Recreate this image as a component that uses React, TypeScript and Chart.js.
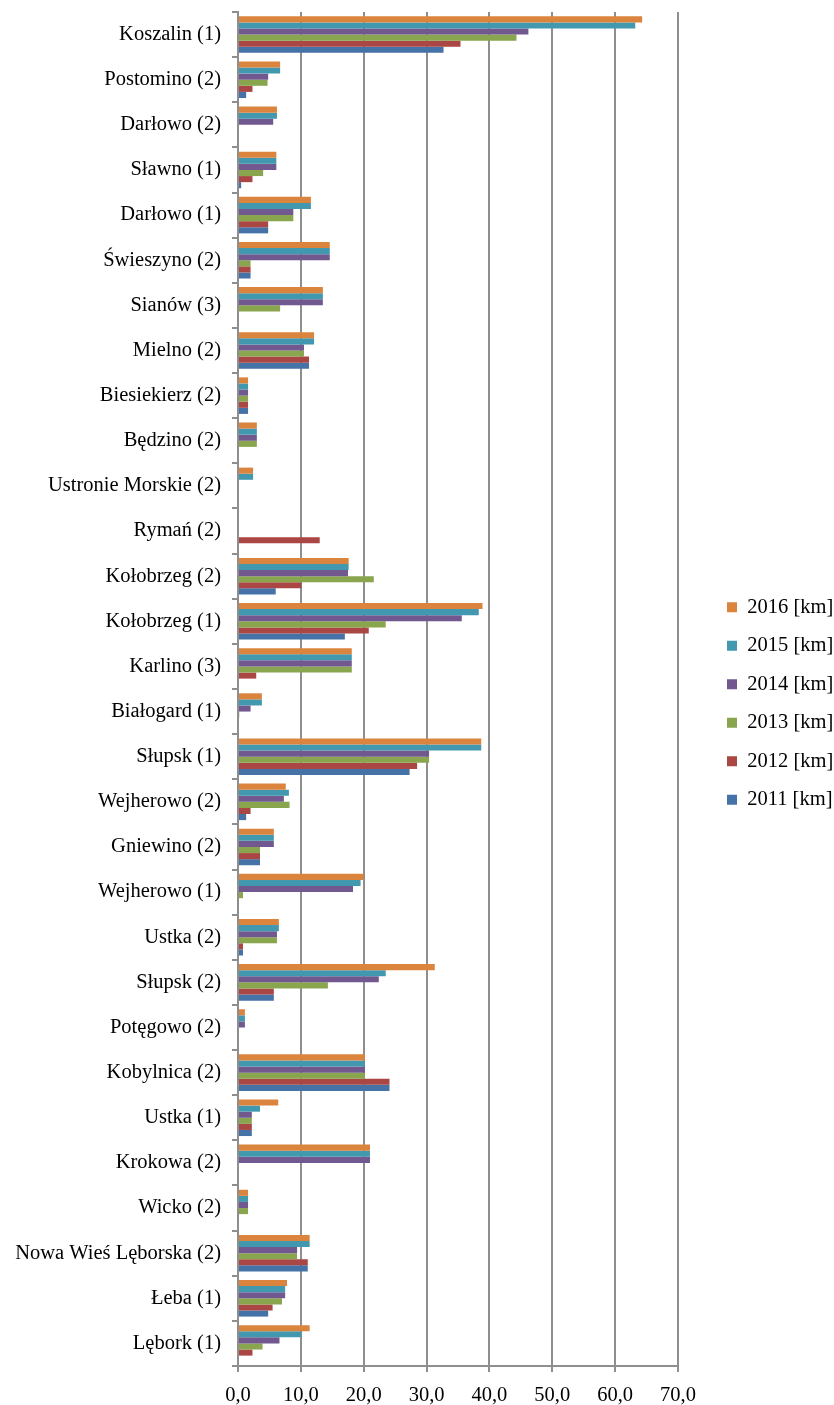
import React, { useEffect, useRef } from 'react';
import { Chart, registerables } from 'chart.js';

Chart.register(...registerables);

const categories = ['Koszalin (1)', 'Postomino (2)', 'Darłowo (2)', 'Sławno (1)', 'Darłowo (1)', 'Świeszyno (2)', 'Sianów (3)', 'Mielno (2)', 'Biesiekierz (2)', 'Będzino (2)', 'Ustronie Morskie (2)', 'Rymań (2)', 'Kołobrzeg (2)', 'Kołobrzeg (1)', 'Karlino (3)', 'Białogard (1)', 'Słupsk (1)', 'Wejherowo (2)', 'Gniewino (2)', 'Wejherowo (1)', 'Ustka (2)', 'Słupsk (2)', 'Potęgowo (2)', 'Kobylnica (2)', 'Ustka (1)', 'Krokowa (2)', 'Wicko (2)', 'Nowa Wieś Lęborska (2)', 'Łeba (1)', 'Lębork (1)'];

const seriesNames = ['2016 [km]', '2015 [km]', '2014 [km]', '2013 [km]', '2012 [km]', '2011 [km]'];

const km2016 = [64.3, 6.7, 6.2, 6.1, 11.6, 14.6, 13.5, 12.1, 1.6, 3.0, 2.4, 0, 17.6, 38.9, 18.1, 3.8, 38.7, 7.6, 5.7, 20.0, 6.5, 31.3, 1.1, 20.2, 6.4, 21.0, 1.6, 11.4, 7.8, 11.4];
const km2015 = [63.2, 6.7, 6.2, 6.1, 11.6, 14.6, 13.5, 12.1, 1.6, 3.0, 2.4, 0, 17.6, 38.3, 18.1, 3.8, 38.7, 8.1, 5.7, 19.5, 6.5, 23.5, 1.1, 20.2, 3.5, 21.0, 1.6, 11.4, 7.5, 10.1];
const km2014 = [46.2, 4.8, 5.6, 6.1, 8.8, 14.6, 13.5, 10.5, 1.6, 3.0, 0, 0, 17.5, 35.6, 18.1, 2.0, 30.4, 7.3, 5.7, 18.3, 6.2, 22.4, 1.1, 20.2, 2.2, 21.0, 1.6, 9.4, 7.5, 6.6];
const km2013 = [44.3, 4.7, 0, 4.0, 8.8, 2.0, 6.7, 10.5, 1.6, 3.0, 0, 0, 21.6, 23.5, 18.1, 0.2, 30.4, 8.2, 3.5, 0.8, 6.2, 14.3, 0, 20.2, 2.2, 0, 1.6, 9.4, 7.0, 3.9];
const km2012 = [35.4, 2.3, 0, 2.3, 4.8, 2.0, 0, 11.3, 1.6, 0, 0, 13.0, 10.1, 20.8, 2.9, 0, 28.5, 2.0, 3.5, 0, 0.8, 5.7, 0, 24.1, 2.2, 0, 0, 11.1, 5.5, 2.3];
const km2011 = [32.7, 1.3, 0, 0.5, 4.8, 2.0, 0, 11.3, 1.6, 0, 0, 0, 6.0, 17.0, 0, 0, 27.3, 1.3, 3.5, 0, 0.8, 5.7, 0, 24.1, 2.2, 0, 0, 11.1, 4.8, 0];

const seriesValues = [km2016, km2015, km2014, km2013, km2012, km2011];
const seriesColors = ['#DB843D', '#4198AF', '#71588F', '#89A54E', '#AA4643', '#4572A7'];

const xTicks = [0, 10, 20, 30, 40, 50, 60, 70];

const FONT = '"Liberation Serif", "Times New Roman", serif';
const GRID = '#8e8e8e';

const legendShift = {
  id: 'legendShift',
  afterLayout(chart: any) {
    const l = chart.legend;
    if (!l) return;
    l.left += 31;
    l.right += 31;
    l.top -= 5;
    l.bottom -= 5;
  },
};

export default function App() {
  const ref = useRef<HTMLCanvasElement | null>(null);

  useEffect(() => {
    if (!ref.current) return;
    const chart = new Chart(ref.current, {
      type: 'bar',
      data: {
        labels: categories,
        datasets: seriesValues.map((vals, i) => ({
          label: seriesNames[i],
          data: vals,
          backgroundColor: seriesColors[i],
          borderColor: seriesColors[i],
          borderWidth: 0,
          categoryPercentage: 0.81,
          barPercentage: 1.0,
        })),
      },
      plugins: [legendShift],
      options: {
        indexAxis: 'y',
        animation: false,
        responsive: true,
        maintainAspectRatio: false,
        layout: { padding: { top: 12, left: 0, right: 0, bottom: 0 } },
        plugins: {
          tooltip: { enabled: false },
          legend: {
            position: 'right',
            labels: {
              font: { family: FONT, size: 20.5 },
              color: '#000',
              boxWidth: 10,
              boxHeight: 10,
              padding: 18,
            },
          },
        },
        scales: {
          x: {
            min: 0,
            max: 70,
            afterBuildTicks: (scale: any) => {
              scale.ticks = xTicks.map((v) => ({ value: v }));
            },
            afterFit: (scale: any) => {
              scale.height = 39;
              scale.paddingRight = 156;
            },
            ticks: {
              font: { family: FONT, size: 20.5 },
              color: '#000',
              padding: 11,
              callback: (v: any) => Number(v).toFixed(1).replace('.', ','),
            },
            grid: {
              color: GRID,
              lineWidth: 2,
              drawTicks: true,
              tickLength: 6,
              tickColor: GRID,
            },
            border: { display: true, color: GRID, width: 2 },
          },
          y: {
            afterFit: (scale: any) => {
              scale.width = 238;
              scale.paddingTop = 0;
              scale.paddingBottom = 0;
            },
            ticks: {
              font: { family: FONT, size: 20.5 },
              color: '#000',
              padding: 11,
              autoSkip: false,
            },
            grid: {
              display: true,
              drawOnChartArea: false,
              drawTicks: true,
              tickLength: 6,
              tickColor: GRID,
              lineWidth: 2,
              offset: true,
            },
            border: { display: true, color: GRID, width: 2 },
          },
        },
      },
    });
    return () => chart.destroy();
  }, []);

  return (
    <div style={{ position: 'absolute', left: 0, top: 0, width: 834, height: 1405, background: '#fff' }}>
      <canvas ref={ref} />
    </div>
  );
}
